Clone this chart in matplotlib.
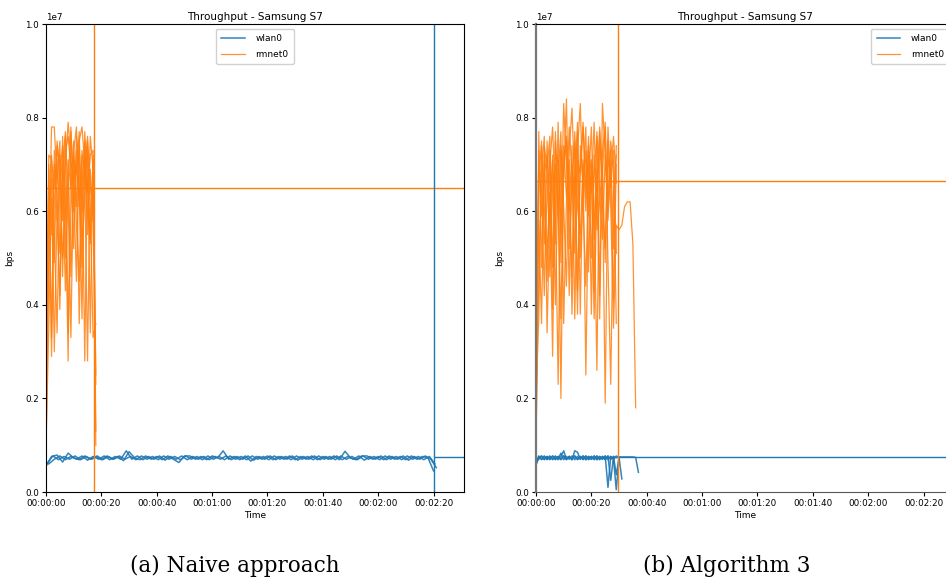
import matplotlib
matplotlib.use("Agg")
import matplotlib.pyplot as plt
from matplotlib.ticker import MultipleLocator, FuncFormatter

# ---- data (throughput in Mbit/s, time in seconds) ----
# Naive approach: rmnet0 runs sampled every second
naive_rmnet = [
    [1.2, 7.2, 7.1, 6.5, 7.4, 7.0, 5.8, 7.3, 7.6, 6.9, 7.2, 6.1, 7.5, 7.8, 7.0, 6.4, 7.2, 7.3, 2.3],
    [2.8, 5.2, 7.8, 7.8, 6.6, 7.5, 4.6, 7.0, 7.9, 7.1, 5.2, 7.6, 6.9, 3.7, 7.7, 6.6, 5.4, 6.5, 1.0],
    [0.5, 6.9, 2.9, 6.2, 7.1, 5.1, 6.4, 7.6, 3.4, 6.0, 7.3, 7.8, 6.1, 7.2, 2.8, 7.4, 6.1, 3.3, 3.6],
    [1.8, 4.6, 7.2, 5.6, 3.4, 6.8, 7.4, 6.3, 2.8, 7.7, 6.5, 4.5, 7.4, 6.0, 7.3, 5.5, 7.6, 6.9],
    [3.5, 6.5, 5.5, 7.0, 6.3, 3.9, 7.0, 7.7, 6.2, 3.3, 7.1, 6.8, 7.7, 5.2, 6.3, 7.5, 3.4, 7.1, 2.5],
    [1.0, 3.5, 6.3, 4.9, 7.5, 6.6, 5.0, 6.0, 7.1, 6.5, 7.5, 5.7, 4.5, 7.3, 6.8, 2.8, 6.9, 5.8],
    [2.2, 7.0, 3.3, 7.3, 5.8, 7.2, 6.7, 4.3, 6.6, 7.8, 6.0, 7.3, 3.6, 6.5, 7.5, 6.0, 5.3, 7.2, 1.3],
    [0.8, 5.8, 6.7, 3.0, 6.0, 4.2, 7.6, 5.0, 6.8, 4.6, 6.8, 7.0, 6.2, 4.8, 6.9, 7.6, 6.5, 6.2],
]

# Naive approach: wlan0 runs sampled every two seconds, each run starting at its own offset
naive_wlan_start = [0.0, 1.0, 0.5]
naive_wlan = [
    [0.55, 0.76, 0.79, 0.64, 0.83, 0.73, 0.69, 0.77, 0.70, 0.76, 0.69, 0.77, 0.70, 0.76, 0.67,
     0.86, 0.73, 0.69, 0.77, 0.70, 0.76, 0.69, 0.77, 0.70, 0.63, 0.77, 0.77, 0.70, 0.76, 0.69,
     0.77, 0.73, 0.88, 0.70, 0.76, 0.69, 0.77, 0.66, 0.76, 0.70, 0.77, 0.69, 0.76, 0.70, 0.77,
     0.69, 0.76, 0.70, 0.77, 0.69, 0.76, 0.70, 0.77, 0.69, 0.87, 0.73, 0.69, 0.77, 0.77, 0.70,
     0.76, 0.69, 0.77, 0.70, 0.76, 0.69, 0.77, 0.70, 0.76, 0.73, 0.45],
    [0.60, 0.70, 0.77, 0.69, 0.76, 0.70, 0.77, 0.68, 0.76, 0.70, 0.77, 0.69, 0.76, 0.70, 0.88,
     0.70, 0.77, 0.69, 0.76, 0.70, 0.77, 0.68, 0.76, 0.70, 0.77, 0.69, 0.76, 0.70, 0.76, 0.69,
     0.76, 0.70, 0.77, 0.69, 0.76, 0.70, 0.77, 0.68, 0.76, 0.70, 0.77, 0.69, 0.76, 0.70, 0.77,
     0.68, 0.76, 0.70, 0.77, 0.69, 0.76, 0.70, 0.77, 0.69, 0.76, 0.70, 0.77, 0.68, 0.76, 0.70,
     0.77, 0.69, 0.76, 0.70, 0.77, 0.68, 0.76, 0.70, 0.77, 0.70, 0.52],
    [0.62, 0.77, 0.69, 0.76, 0.70, 0.77, 0.69, 0.76, 0.70, 0.77, 0.69, 0.76, 0.70, 0.77, 0.70,
     0.76, 0.69, 0.77, 0.70, 0.76, 0.69, 0.77, 0.70, 0.76, 0.69, 0.77, 0.70, 0.76, 0.69, 0.77,
     0.70, 0.76, 0.69, 0.77, 0.70, 0.76, 0.69, 0.77, 0.70, 0.76, 0.69, 0.77, 0.70, 0.76, 0.69,
     0.77, 0.70, 0.76, 0.69, 0.77, 0.70, 0.76, 0.69, 0.77, 0.70, 0.76, 0.69, 0.77, 0.70, 0.76,
     0.69, 0.77, 0.70, 0.76, 0.69, 0.77, 0.70, 0.76, 0.69, 0.76, 0.60],
]

# Algorithm 3: rmnet0 runs sampled every second
algo_rmnet = [
    [0.5, 7.7, 4.8, 7.4, 6.9, 7.6, 3.9, 6.7, 7.2, 5.5, 8.3, 7.0, 6.0, 7.4, 3.7, 7.1, 6.8, 7.9,
     6.3, 7.2, 5.0, 6.9, 7.6, 4.2, 8.3, 7.2, 6.0, 7.3, 5.2, 7.4],
    [2.0, 3.7, 7.4, 6.1, 4.5, 7.0, 7.8, 6.2, 2.3, 7.3, 6.7, 8.4, 5.2, 6.7, 7.5, 4.3, 6.9, 7.8,
     6.5, 7.6, 3.8, 7.2, 6.1, 7.8, 6.7, 1.9, 7.1, 6.8, 7.6, 6.6],
    [1.2, 5.8, 3.6, 7.2, 5.0, 6.4, 2.9, 7.5, 6.5, 2.0, 7.0, 7.6, 6.4, 4.6, 7.7, 6.1, 5.5, 7.0,
     2.5, 6.6, 7.8, 5.4, 6.9, 3.7, 7.3, 7.8, 4.9, 2.3, 6.4, 7.2],
    [3.2, 7.0, 6.5, 4.2, 7.5, 5.7, 7.1, 4.0, 6.8, 7.7, 3.6, 6.2, 7.8, 6.8, 5.1, 7.3, 8.3, 6.2,
     4.4, 7.0, 6.4, 7.9, 5.6, 6.2, 7.0, 4.9, 7.5, 6.1, 3.5, 5.7, 5.6, 5.7, 6.1, 6.2, 6.2, 5.3,
     1.8],
    [0.8, 6.6, 7.5, 5.3, 6.2, 7.3, 4.8, 7.7, 5.9, 7.4, 6.1, 4.4, 7.3, 8.2, 6.5, 3.8, 7.4, 6.6,
     7.8, 4.7, 7.1, 6.2, 2.6, 7.5, 6.8, 7.9, 5.8, 6.9, 4.1, 7.0],
    [2.6, 4.3, 6.9, 7.6, 3.4, 6.0, 7.2, 5.3, 7.9, 4.9, 7.4, 6.3, 7.1, 3.8, 6.6, 7.9, 5.0, 6.4,
     7.3, 5.9, 7.0, 4.3, 7.7, 6.4, 5.4, 7.2, 6.2, 7.5, 6.9, 3.6],
    [1.5, 7.3, 5.9, 6.8, 7.2, 4.6, 6.5, 7.0, 6.1, 3.7, 6.9, 7.5, 4.2, 7.0, 6.3, 7.7, 3.8, 7.1,
     6.0, 7.4, 6.8, 3.7, 6.5, 7.7, 6.1, 5.2, 7.8, 6.5, 7.3, 5.1],
]

# Algorithm 3: wlan0 runs sampled every second
algo_wlan = [
    [0.60, 0.76, 0.70, 0.77, 0.69, 0.76, 0.70, 0.77, 0.69, 0.76, 0.88, 0.70, 0.76, 0.69, 0.88,
     0.85, 0.70, 0.77, 0.69, 0.76, 0.70, 0.77, 0.69, 0.76, 0.70, 0.77, 0.10, 0.76, 0.70, 0.77, 0.73],
    [0.65, 0.70, 0.77, 0.69, 0.76, 0.70, 0.77, 0.69, 0.76, 0.70, 0.77, 0.69, 0.76, 0.70, 0.77,
     0.69, 0.76, 0.70, 0.77, 0.69, 0.76, 0.70, 0.77, 0.69, 0.76, 0.70, 0.77, 0.25, 0.76, 0.37, 0.74],
    [0.62, 0.77, 0.69, 0.76, 0.70, 0.77, 0.69, 0.76, 0.70, 0.83, 0.69, 0.76, 0.70, 0.77, 0.69,
     0.76, 0.70, 0.77, 0.69, 0.76, 0.70, 0.77, 0.69, 0.76, 0.70, 0.77, 0.69, 0.76, 0.70, 0.05,
     0.74, 0.28],
    [0.58, 0.73, 0.77, 0.70, 0.76, 0.69, 0.77, 0.70, 0.76, 0.69, 0.77, 0.70, 0.76, 0.69, 0.77,
     0.70, 0.76, 0.69, 0.77, 0.70, 0.76, 0.69, 0.77, 0.70, 0.76, 0.69, 0.77, 0.70, 0.76, 0.73,
     0.75, 0.75, 0.75, 0.75, 0.75, 0.75, 0.74, 0.42],
]

# Reference markers per experiment: rmnet0 switch time and mean, wlan0 end time and mean
naive_markers = dict(rm_t=17.3, rm_mean=6.5, wl_t=140.0, wl_mean=0.745)
algo_markers = dict(rm_t=29.7, rm_mean=6.65, wl_t=30.0, wl_mean=0.75)

captions = ["(a) Naive approach", "(b) Algorithm 3"]
title = "Throughput - Samsung S7"
legend_loc = ["upper center", "upper right"]

BLUE = "#1f77b4"
ORANGE = "#ff7f0e"
MBPS = 1e6
XMAX = 151.0


def hms(x, pos=None):
    s = int(round(x))
    return f"{s // 3600:02d}:{(s % 3600) // 60:02d}:{s % 60:02d}"


fig = plt.figure(figsize=(9.46, 5.85), dpi=100)
plt.rcParams["font.family"] = ["DejaVu Sans"]

axes_pos = [[46 / 946, 1 - 492 / 585, 418 / 946, 468 / 585],
            [536 / 946, 1 - 492 / 585, 418 / 946, 468 / 585]]

panels = [(naive_rmnet, naive_wlan, 2.0, naive_wlan_start, naive_markers),
          (algo_rmnet, algo_wlan, 1.0, [0.0] * len(algo_wlan), algo_markers)]

for k, (rm_runs, wl_runs, wl_step, wl_start, mk) in enumerate(panels):
    ax = fig.add_axes(axes_pos[k])
    for j, run in enumerate(wl_runs):
        t = [wl_start[j] + i * wl_step for i in range(len(run))]
        ax.plot(t, [v * MBPS for v in run], color=BLUE, lw=1.1, alpha=0.9,
                label="wlan0" if j == 0 else None)
    for j, run in enumerate(rm_runs):
        t = list(range(len(run)))
        ax.plot(t, [v * MBPS for v in run], color=ORANGE, lw=0.9, alpha=0.85,
                label="rmnet0" if j == 0 else None)

    ax.axvline(mk["rm_t"], color=ORANGE, lw=1.0)
    ax.axhline(mk["rm_mean"] * MBPS, color=ORANGE, lw=1.0)
    if k == 0:
        ax.axvline(mk["wl_t"], color=BLUE, lw=1.0)
    ax.hlines(mk["wl_mean"] * MBPS, mk["wl_t"], XMAX, color=BLUE, lw=1.0)

    ax.set_xlim(0, XMAX)
    ax.set_ylim(0, 1e7)
    ax.xaxis.set_major_locator(MultipleLocator(20))
    ax.xaxis.set_major_formatter(FuncFormatter(hms))
    ax.yaxis.set_major_locator(MultipleLocator(2e6))
    ax.tick_params(labelsize=6.3, length=3, width=0.8, pad=2)
    ax.yaxis.get_offset_text().set_fontsize(6.3)
    ax.set_title(title, fontsize=7.5, pad=3)
    ax.set_xlabel("Time", fontsize=6.5, labelpad=2)
    ax.set_ylabel("bps", fontsize=6.5, labelpad=8)
    if k == 1:
        ax.spines["left"].set_color("#777777")
        ax.spines["left"].set_linewidth(1.6)
        ax.spines["bottom"].set_color("#555555")
    ax.legend(loc=legend_loc[k], fontsize=6.5, handlelength=2.6, borderpad=0.6,
              labelspacing=0.75, handletextpad=1.2, framealpha=0.9)

    fig.text([235 / 946, 727 / 946][k], 1 - 566 / 585, captions[k],
             family=["DejaVu Serif"], fontsize=15.5, ha="center", va="center")

fig.savefig("out.png", dpi=100)
